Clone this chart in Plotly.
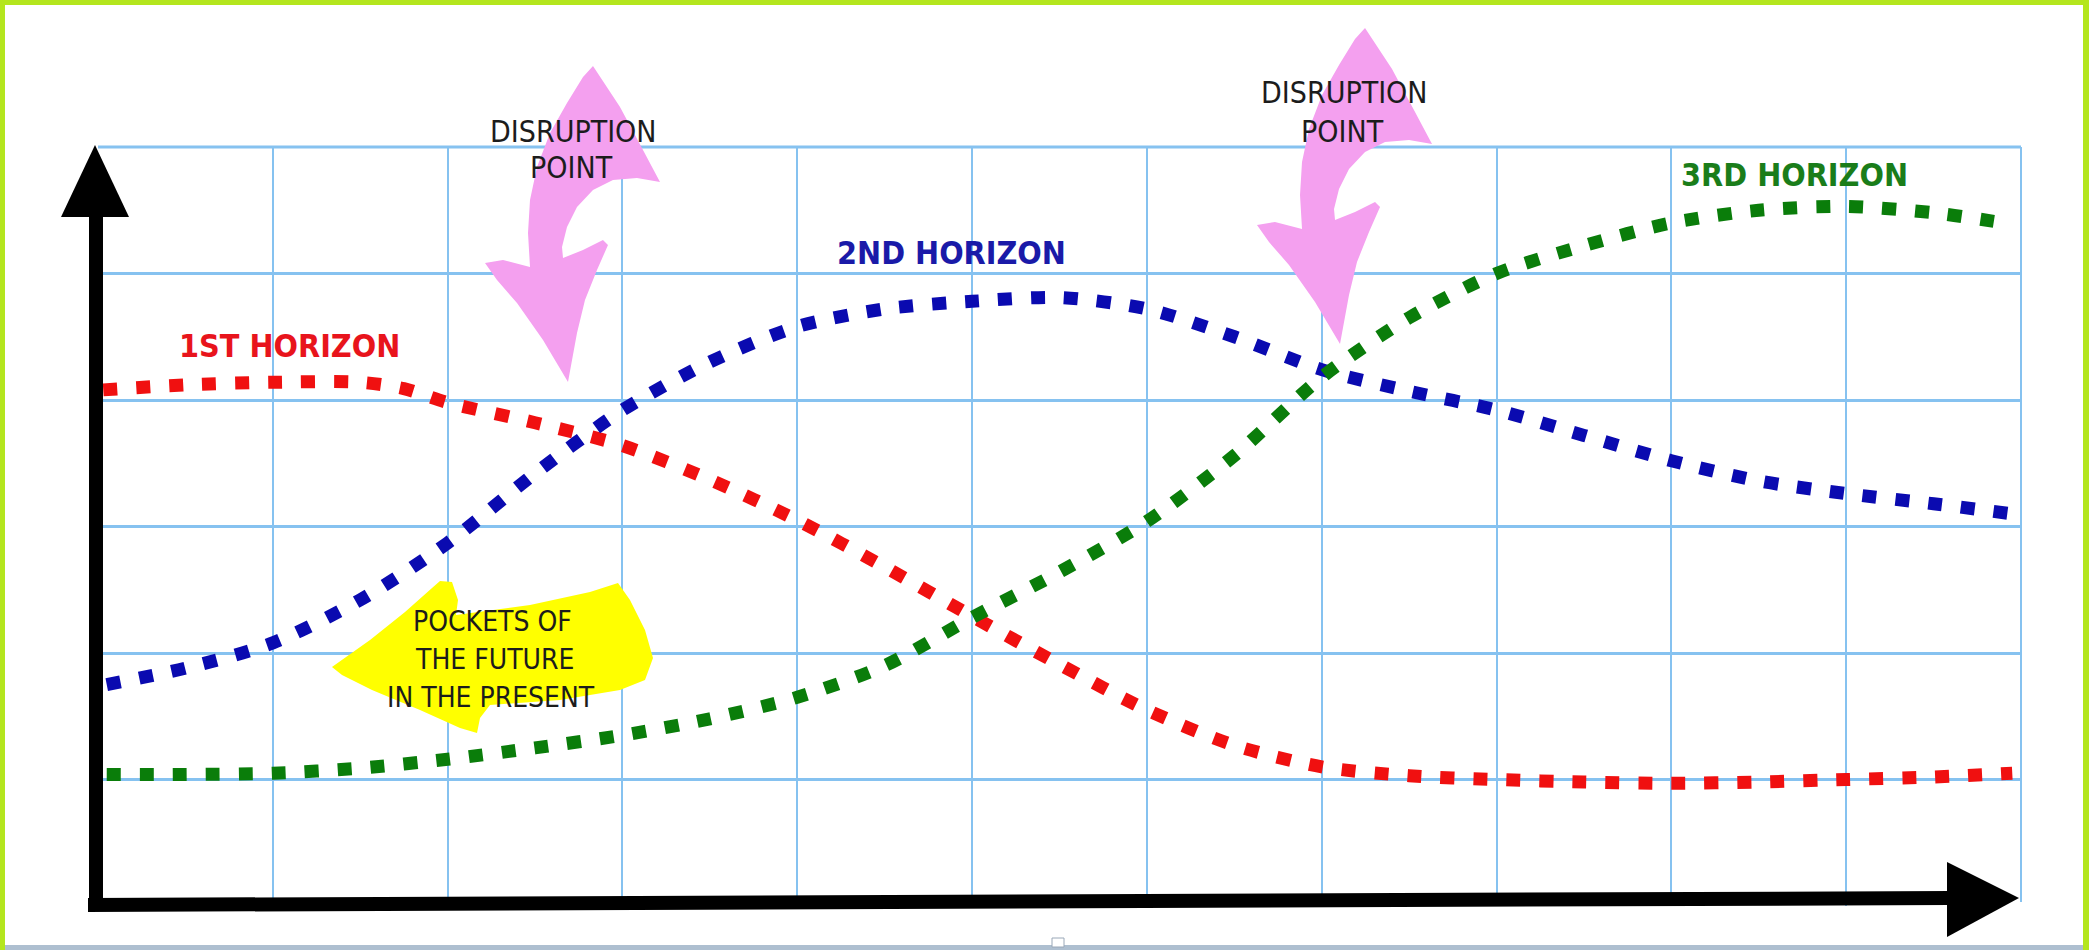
import plotly.graph_objects as go

# ---------------- data ----------------
x_first = [0.03, 0.5, 1.0, 1.5, 1.75, 2.0, 2.5, 3.0, 3.5, 4.0, 4.5, 5.0, 5.5, 6.0,
           6.5, 7.0, 7.5, 8.0, 8.5, 9.0, 9.5, 10.0, 10.5, 10.95]
y_first = [4.08, 4.12, 4.14, 4.14, 4.09, 3.98, 3.82, 3.64, 3.37, 3.05, 2.68, 2.29, 1.91, 1.55,
           1.27, 1.10, 1.03, 1.00, 0.98, 0.97, 0.98, 1.00, 1.02, 1.05]

x_second = [0.05, 0.5, 1.0, 1.5, 2.0, 2.5, 3.0, 3.5, 4.0, 4.5, 5.0, 5.5, 6.0, 6.5,
            7.0, 7.5, 8.0, 8.5, 9.0, 9.5, 10.0, 10.5, 10.95]
y_second = [1.75, 1.88, 2.08, 2.42, 2.87, 3.42, 3.92, 4.30, 4.58, 4.72, 4.78, 4.81, 4.72, 4.50,
            4.24, 4.07, 3.92, 3.72, 3.52, 3.36, 3.26, 3.18, 3.10]

x_third = [0.05, 0.5, 1.0, 1.5, 2.0, 2.5, 3.0, 3.5, 4.0, 4.5, 5.0, 5.5, 6.0, 6.5,
           7.0, 7.5, 8.0, 8.5, 9.0, 9.5, 10.0, 10.5, 10.9]
y_third = [1.04, 1.04, 1.05, 1.09, 1.16, 1.25, 1.35, 1.48, 1.65, 1.90, 2.28, 2.64, 3.04, 3.56,
           4.18, 4.65, 5.00, 5.22, 5.40, 5.50, 5.53, 5.48, 5.40]

series_names = ["1ST HORIZON", "2ND HORIZON", "3RD HORIZON"]
series_colors = ["#f01010", "#0a0ab0", "#0a7d0a"]
label_colors = ["#e8141c", "#1a1aa8", "#1a7d1a"]

x_range = [0, 11]
y_range = [0, 6]
x_grid = [1, 2, 3, 4, 5, 6, 7, 8, 9, 10]
y_grid = [1, 2, 3, 4, 5]

# ---------------- figure geometry ----------------
W, H = 2089, 950
L, R, T, B = 98, 2021, 147, 906   # plot area in pixels


def px(x):
    return (x - L) / (R - L)


def py(y):
    return (B - y) / (B - T)


def path_from(points):
    s = "M " + " L ".join(f"{px(a):.5f},{py(b):.5f}" for a, b in points)
    return s + " Z"


fig = go.Figure()

xs = [x_first, x_second, x_third]
ys = [y_first, y_second, y_third]
for name, col, xv, yv in zip(series_names, series_colors, xs, ys):
    fig.add_trace(go.Scatter(
        x=xv, y=yv, mode="lines", name=name,
        line=dict(color=col, width=13, dash="14px,19px", shape="spline", smoothing=0.8),
        hoverinfo="skip", showlegend=False))

shapes = []

# pink curved "disruption point" arrows
pink_pts = [(593, 66), (620, 107), (643, 150), (660, 182), (637, 178), (613, 180),
            (593, 190), (577, 207), (567, 227), (562, 247), (563, 258), (583, 250),
            (603, 240), (608, 245), (597, 270), (585, 300), (577, 333), (568, 382),
            (543, 340), (517, 303), (497, 280), (485, 263), (503, 260), (530, 267),
            (528, 233), (530, 200), (537, 167), (550, 133), (567, 103), (583, 77)]
for dx, dy in [(0, 0), (772, -38)]:
    shapes.append(dict(type="path", xref="paper", yref="paper", layer="above",
                       path=path_from([(a + dx, b + dy) for a, b in pink_pts]),
                       fillcolor="#f4a0ef", line=dict(width=0)))

# yellow "pockets of the future" arrow
yellow_pts = [(332, 667), (370, 640), (405, 612), (432, 588), (440, 581), (452, 582),
              (458, 600), (456, 615), (530, 605), (590, 592), (618, 583), (630, 600),
              (645, 630), (653, 658), (645, 680), (620, 690), (560, 700), (490, 705),
              (480, 718), (477, 733), (460, 728), (420, 710), (372, 690), (342, 675)]
shapes.append(dict(type="path", xref="paper", yref="paper", layer="above",
                   path=path_from(yellow_pts), fillcolor="#ffff00", line=dict(width=0)))

# outer grid frame: top and right edges only
grid_col = "#86c2f0"
shapes.append(dict(type="line", xref="paper", yref="paper", x0=0, x1=1, y0=1, y1=1,
                   line=dict(color=grid_col, width=3), layer="below"))
shapes.append(dict(type="line", xref="paper", yref="paper", x0=1, x1=1, y0=py(902), y1=1,
                   line=dict(color=grid_col, width=2), layer="below"))

# black axes with arrow heads
shapes.append(dict(type="path", xref="paper", yref="paper", layer="above",
                   path=path_from([(89, 215), (103, 215), (103, 905), (89, 912)]),
                   fillcolor="black", line=dict(width=0)))
shapes.append(dict(type="path", xref="paper", yref="paper", layer="above",
                   path=path_from([(95, 145), (129, 217), (61, 217)]),
                   fillcolor="black", line=dict(width=0)))
shapes.append(dict(type="path", xref="paper", yref="paper", layer="above",
                   path=path_from([(88, 898), (1950, 891), (1950, 905), (88, 912)]),
                   fillcolor="black", line=dict(width=0)))
shapes.append(dict(type="path", xref="paper", yref="paper", layer="above",
                   path=path_from([(2019, 898), (1947, 862), (1947, 937)]),
                   fillcolor="black", line=dict(width=0)))

# lime frame and bottom strip of the picture
lime = "#b4e61e"
for (a, b, c, d) in [(0, 0, W, 5), (0, 0, 5, H), (W - 6, 0, W, H)]:
    shapes.append(dict(type="rect", xref="paper", yref="paper", layer="above",
                       x0=px(a), x1=px(c), y0=py(d), y1=py(b),
                       fillcolor=lime, line=dict(width=0)))
shapes.append(dict(type="rect", xref="paper", yref="paper", layer="above",
                   x0=px(5), x1=px(W - 6), y0=py(950), y1=py(945),
                   fillcolor="#aebfd0", line=dict(width=0)))
shapes.append(dict(type="rect", xref="paper", yref="paper", layer="above",
                   x0=px(1052), x1=px(1064), y0=py(947), y1=py(938),
                   fillcolor="white", line=dict(color="#9aa8b8", width=1)))

fig.update_layout(shapes=shapes)

narrow = "Liberation Sans Narrow, Arial Narrow, DejaVu Sans Condensed, Liberation Sans, sans-serif"

annots = []
# horizon labels
label_pos = [(289, 346), (951, 253), (1794, 175)]
for name, col, (a, b) in zip(series_names, label_colors, label_pos):
    annots.append(dict(text=f"<b>{name}</b>", x=px(a), y=py(b),
                       font=dict(size=32, color=col, family=narrow)))

grey_lines = [("DISRUPTION", 573, 131, 30), ("POINT", 571, 168, 30),
              ("DISRUPTION", 1344, 93, 30), ("POINT", 1342, 131, 30),
              ("POCKETS OF", 492, 621, 28), ("THE FUTURE", 494, 659, 28),
              ("IN THE PRESENT", 491, 697, 28)]
for t, a, b, s in grey_lines:
    annots.append(dict(text=t, x=px(a), y=py(b), font=dict(size=s, color="#1c1c1c", family=narrow)))

for an in annots:
    an.update(xref="paper", yref="paper", xanchor="center", yanchor="middle", showarrow=False)
fig.update_layout(annotations=annots)

fig.update_xaxes(range=x_range, tickmode="array", tickvals=x_grid, showgrid=True,
                 gridcolor=grid_col, gridwidth=2, zeroline=False, showticklabels=False,
                 ticks="", showline=False, fixedrange=True)
fig.update_yaxes(range=y_range, tickmode="array", tickvals=y_grid, showgrid=True,
                 gridcolor=grid_col, gridwidth=3, zeroline=False, showticklabels=False,
                 ticks="", showline=False, fixedrange=True)

fig.update_layout(width=W, height=H, autosize=False,
                  margin=dict(l=L, r=W - R, t=T, b=H - B, pad=0),
                  paper_bgcolor="white", plot_bgcolor="white")

fig.write_html("out.html", config={"displayModeBar": False},
               post_script="document.body.style.margin='0px';document.body.style.padding='0px';"
                           "document.body.style.overflow='hidden';")
